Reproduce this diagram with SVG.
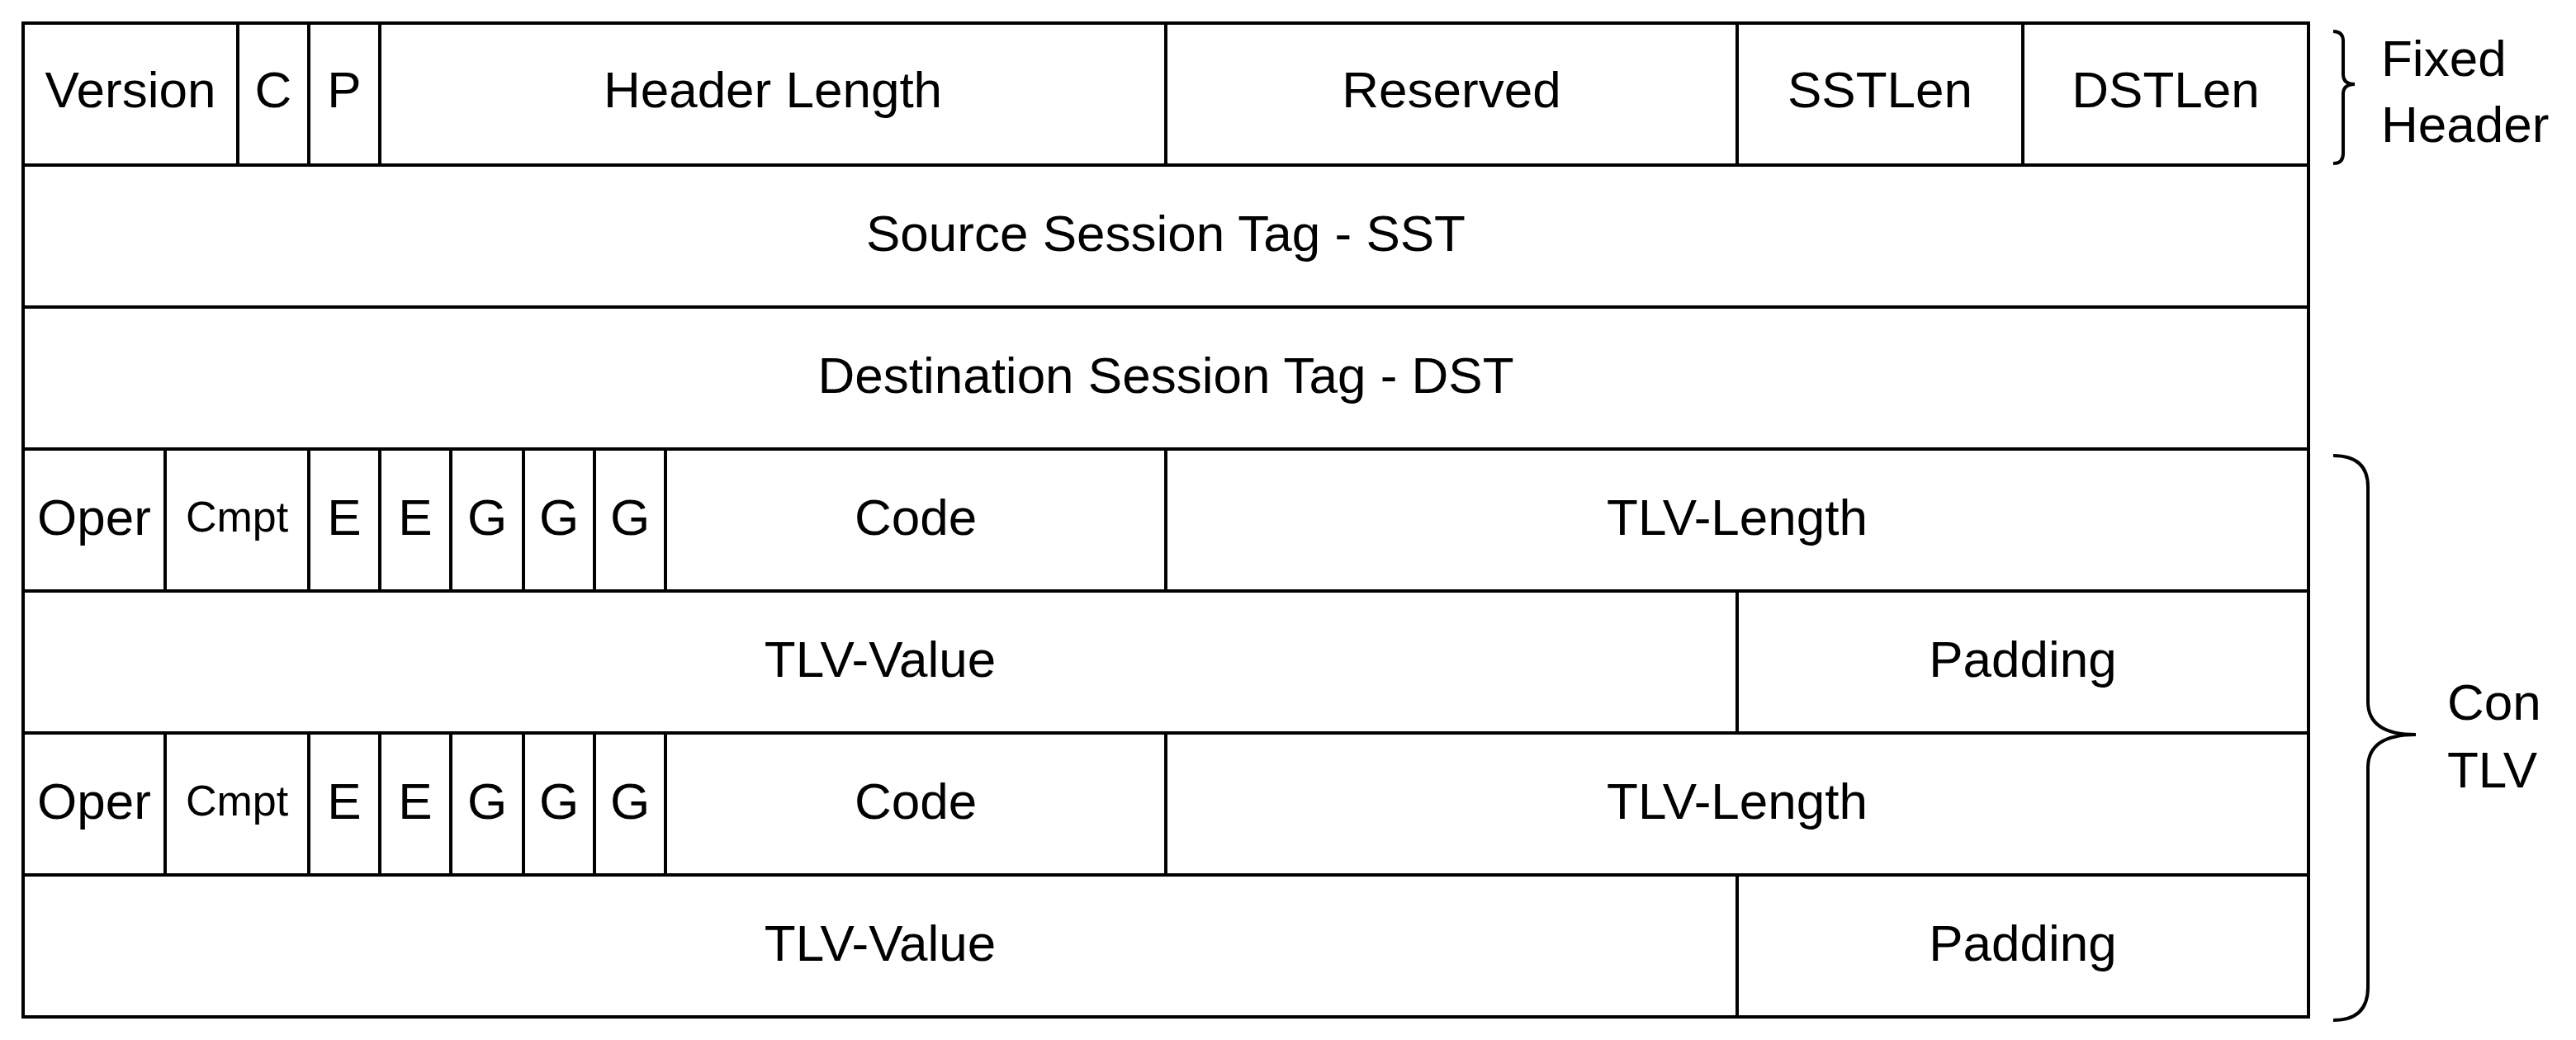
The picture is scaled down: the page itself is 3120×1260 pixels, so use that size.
<svg xmlns="http://www.w3.org/2000/svg" width="3120" height="1260" viewBox="0 0 3120 1260">
<style>
.c{fill:#fff;stroke:#000;stroke-width:4}
.t{font-family:"Liberation Sans",Arial,sans-serif;font-size:62px;fill:#000;text-anchor:middle;dominant-baseline:central}
.s{font-size:52px}
.l{text-anchor:start}
.b{fill:none;stroke:#000;stroke-width:4}
</style>
<rect width="3120" height="1260" fill="#fff"/>
<g id="row1">
<rect class="c" x="28" y="28" width="260" height="172"/><text class="t" x="158" y="108">Version</text>
<rect class="c" x="288" y="28" width="86" height="172"/><text class="t" x="331" y="108">C</text>
<rect class="c" x="374" y="28" width="86" height="172"/><text class="t" x="417" y="108">P</text>
<rect class="c" x="460" y="28" width="952" height="172"/><text class="t" x="936" y="108">Header Length</text>
<rect class="c" x="1412" y="28" width="692" height="172"/><text class="t" x="1758" y="108">Reserved</text>
<rect class="c" x="2104" y="28" width="346" height="172"/><text class="t" x="2277" y="108">SSTLen</text>
<rect class="c" x="2450" y="28" width="346" height="172"/><text class="t" x="2623" y="108">DSTLen</text>
</g>
<g id="sst"><rect class="c" x="28" y="200" width="2768" height="172"/><text class="t" x="1412" y="282">Source Session Tag - SST</text></g>
<g id="dst"><rect class="c" x="28" y="372" width="2768" height="172"/><text class="t" x="1412" y="454">Destination Session Tag - DST</text></g>
<g id="tlv1">
<rect class="c" x="28" y="544" width="172" height="172"/><text class="t" x="114" y="626">Oper</text>
<rect class="c" x="200" y="544" width="174" height="172"/><text class="t s" x="287" y="626">Cmpt</text>
<rect class="c" x="374" y="544" width="86" height="172"/><text class="t" x="417" y="626">E</text>
<rect class="c" x="460" y="544" width="86" height="172"/><text class="t" x="503" y="626">E</text>
<rect class="c" x="546" y="544" width="88" height="172"/><text class="t" x="590" y="626">G</text>
<rect class="c" x="634" y="544" width="86" height="172"/><text class="t" x="677" y="626">G</text>
<rect class="c" x="720" y="544" width="86" height="172"/><text class="t" x="763" y="626">G</text>
<rect class="c" x="806" y="544" width="606" height="172"/><text class="t" x="1109" y="626">Code</text>
<rect class="c" x="1412" y="544" width="1384" height="172"/><text class="t" x="2104" y="626">TLV-Length</text>
<rect class="c" x="28" y="716" width="2076" height="172"/><text class="t" x="1066" y="798">TLV-Value</text>
<rect class="c" x="2104" y="716" width="692" height="172"/><text class="t" x="2450" y="798">Padding</text>
</g>
<g id="tlv2">
<rect class="c" x="28" y="888" width="172" height="172"/><text class="t" x="114" y="970">Oper</text>
<rect class="c" x="200" y="888" width="174" height="172"/><text class="t s" x="287" y="970">Cmpt</text>
<rect class="c" x="374" y="888" width="86" height="172"/><text class="t" x="417" y="970">E</text>
<rect class="c" x="460" y="888" width="86" height="172"/><text class="t" x="503" y="970">E</text>
<rect class="c" x="546" y="888" width="88" height="172"/><text class="t" x="590" y="970">G</text>
<rect class="c" x="634" y="888" width="86" height="172"/><text class="t" x="677" y="970">G</text>
<rect class="c" x="720" y="888" width="86" height="172"/><text class="t" x="763" y="970">G</text>
<rect class="c" x="806" y="888" width="606" height="172"/><text class="t" x="1109" y="970">Code</text>
<rect class="c" x="1412" y="888" width="1384" height="172"/><text class="t" x="2104" y="970">TLV-Length</text>
<rect class="c" x="28" y="1060" width="2076" height="172"/><text class="t" x="1066" y="1142">TLV-Value</text>
<rect class="c" x="2104" y="1060" width="692" height="172"/><text class="t" x="2450" y="1142">Padding</text>
</g>
<g id="fixed">
<path class="b" d="M2826 38 Q2838 38 2838 50 V90 Q2838 102 2852 102 Q2838 102 2838 114 V186 Q2838 198 2826 198"/>
<text class="t l" x="2884" y="70">Fixed</text>
<text class="t l" x="2884" y="150">Header</text>
</g>
<g id="tlvs">
<path class="b" d="M2826 552 Q2868 552 2868 590 V850 Q2868 890 2926 890 Q2868 890 2868 930 V1196 Q2868 1236 2826 1236"/>
<text class="t l" x="2964" y="850">Con</text>
<text class="t l" x="2964" y="932">TLV</text>
</g>
</svg>
